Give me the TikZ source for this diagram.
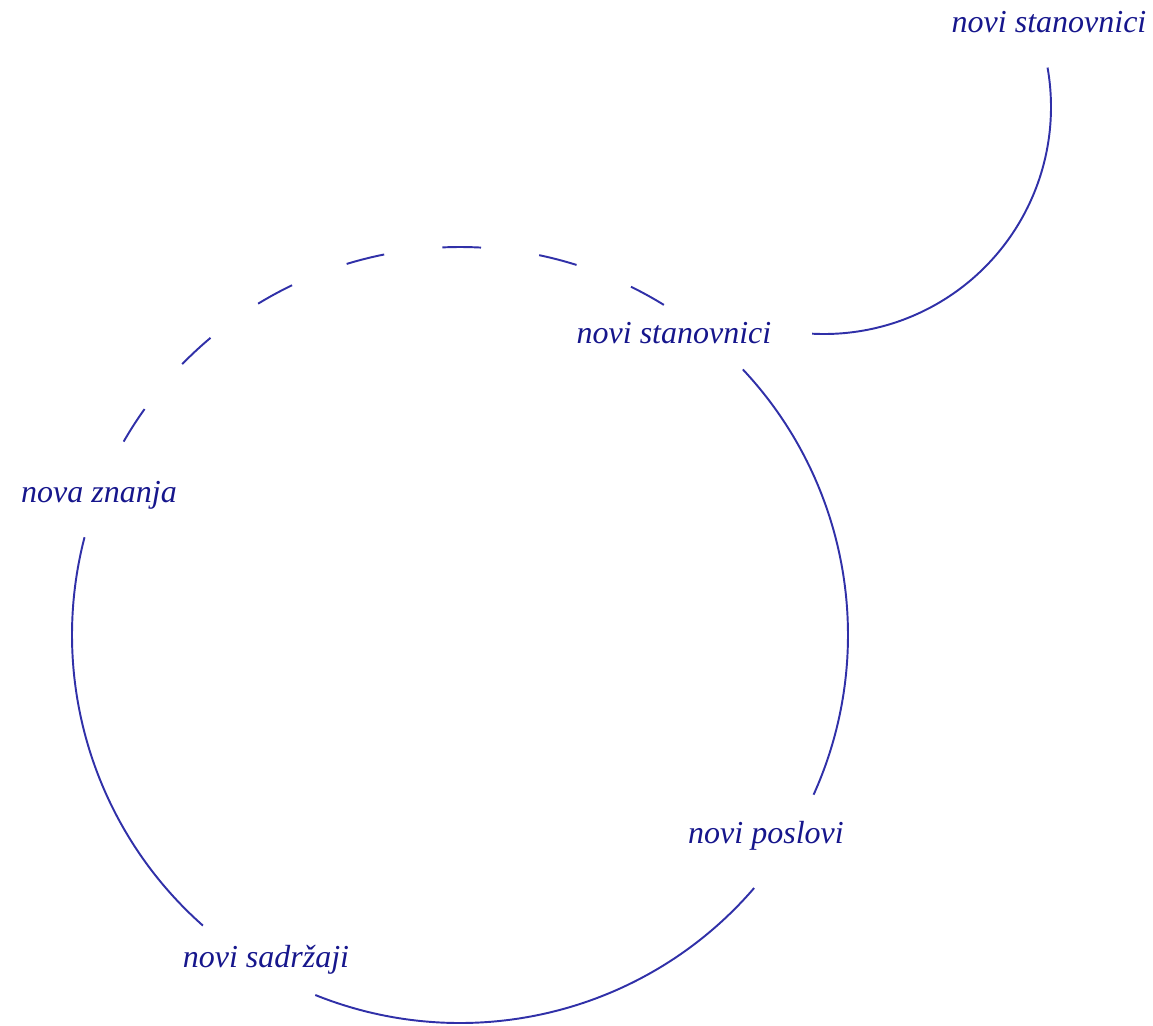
\documentclass[tikz,border=0pt]{standalone}
\usepackage{fontspec}
\setmainfont{Liberation Serif}
\definecolor{labelblue}{RGB}{22,22,140}
\definecolor{lineblue}{RGB}{48,48,168}
\tikzset{
  lbl/.style={anchor=base, inner sep=0pt, text=labelblue, font=\fontsize{24}{28}\selectfont\itshape},
  link/.style={draw=lineblue, line width=1.45pt},
  dlink/.style={link, dash pattern=on 29pt off 44pt}
}
\begin{document}
\begin{tikzpicture}[x=0.75pt,y=-0.75pt]
\useasboundingbox (0,0) rectangle (1153,1025);
\coordinate (c) at (460,635);
\coordinate (t) at (824,107);

\node[lbl] (1) at (674,343) {novi stanovnici};
\node[lbl] (2) at (766,843) {novi poslovi};
\node[lbl] (3) at (266,967) {novi sadržaji};
\node[lbl] (4) at (99,502) {nova znanja};
\node[lbl] (5) at (1049,32) {novi stanovnici};

\path[link] (c) ++(-43.2:388) arc[start angle=-43.2, end angle=24.3, radius=388];
\path[link] (c) ++(40.7:388) arc[start angle=40.7, end angle=111.9, radius=388];
\path[link] (c) ++(131.5:388) arc[start angle=131.5, end angle=194.6, radius=388];
\path[dlink] (c) ++(209.9:388) arc[start angle=209.9, end angle=301.7, radius=388];
\path[link] (t) ++(93:227) arc[start angle=93, end angle=-10, radius=227];
\end{tikzpicture}
\end{document}
